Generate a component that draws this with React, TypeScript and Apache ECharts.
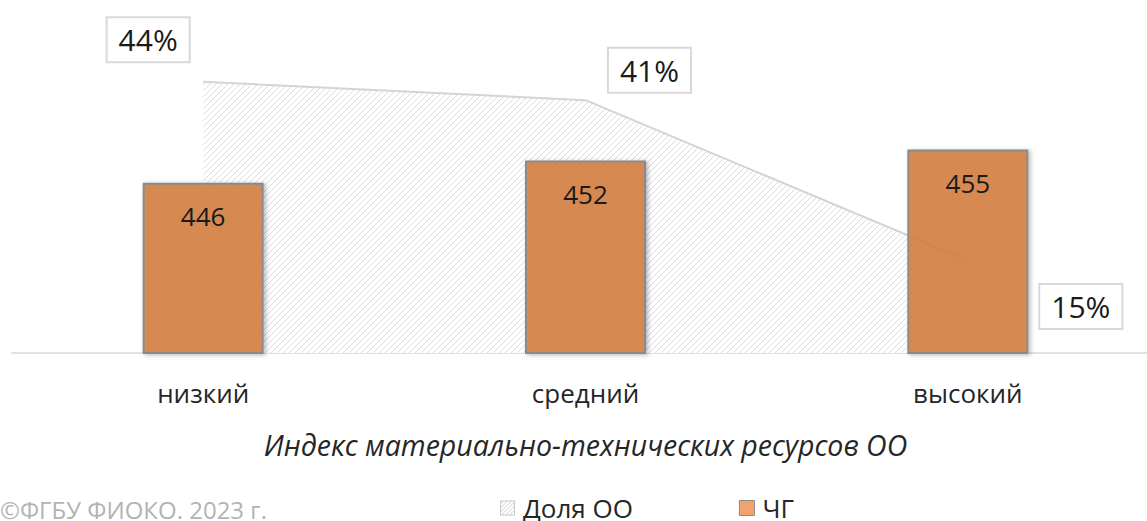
import React, { useEffect, useRef } from "react";
import * as echarts from "echarts";

const categories = ["низкий", "средний", "высокий"];
const shareValues = [44, 41, 15];
const scoreValues = [446, 452, 455];
const shareLabelOffsets: [number, number][] = [
  [-55, -42],
  [64, -30],
  [113, 46],
];
const seriesNames = ["Доля ОО", "ЧГ"];
const axisTitle = "Индекс материально-технических ресурсов ОО";
const copyright = "©ФГБУ ФИОКО. 2023 г.";

const FONT = "'Open Sans', 'Noto Sans', sans-serif";

function makeHatch(): HTMLCanvasElement {
  const c = document.createElement("canvas");
  c.width = 6;
  c.height = 6;
  const ctx = c.getContext("2d")!;
  ctx.fillStyle = "#ffffff";
  ctx.fillRect(0, 0, 6, 6);
  ctx.strokeStyle = "#dcdcdc";
  ctx.lineWidth = 1;
  ctx.beginPath();
  ctx.moveTo(-1, 7);
  ctx.lineTo(7, -1);
  ctx.moveTo(-1, 1);
  ctx.lineTo(1, -1);
  ctx.moveTo(5, 7);
  ctx.lineTo(7, 5);
  ctx.stroke();
  return c;
}

function makeHatchIcon(): string {
  const c = document.createElement("canvas");
  c.width = 15;
  c.height = 15;
  const ctx = c.getContext("2d")!;
  ctx.fillStyle = "#ffffff";
  ctx.fillRect(0, 0, 15, 15);
  ctx.strokeStyle = "#d0d0d0";
  ctx.lineWidth = 1;
  ctx.beginPath();
  for (let k = -15; k < 30; k += 4) {
    ctx.moveTo(k, 15);
    ctx.lineTo(k + 15, 0);
  }
  ctx.stroke();
  ctx.strokeStyle = "#c8c8c8";
  ctx.strokeRect(0.5, 0.5, 14, 14);
  return c.toDataURL();
}

export default function App() {
  const ref = useRef<HTMLDivElement>(null);

  useEffect(() => {
    if (!ref.current) return;
    const chart = echarts.init(ref.current, undefined, { renderer: "svg" });
    const hatch = { image: makeHatch(), repeat: "repeat" } as any;

    chart.setOption({
      animation: false,
      backgroundColor: "#ffffff",
      textStyle: { fontFamily: FONT },
      grid: {
        left: 12,
        width: 1147,
        top: 20,
        height: 333,
        containLabel: false,
        outerBoundsMode: "none",
      },
      legend: {
        left: 495,
        top: 490,
        itemWidth: 15,
        itemHeight: 15,
        itemGap: 106,
        textStyle: { fontSize: 26, color: "#262626", fontFamily: FONT, padding: [0, 0, 0, 3] },
        data: [
          {
            name: seriesNames[0],
            icon: "image://" + makeHatchIcon(),
          },
          {
            name: seriesNames[1],
            icon: "rect",
            itemStyle: { color: "#f0a36d", borderColor: "#8c8c8c", borderWidth: 1 },
          },
        ],
      },
      xAxis: {
        type: "category",
        data: categories,
        boundaryGap: true,
        axisLine: { lineStyle: { color: "#d9d9d9", width: 1.5 } },
        axisTick: { show: false },
        axisLabel: { fontSize: 26, color: "#262626", margin: 27, fontFamily: FONT },
        name: axisTitle,
        nameLocation: "middle",
        nameGap: 77,
        nameTextStyle: { fontSize: 28.5, fontStyle: "italic", color: "#262626", fontFamily: FONT },
      },
      yAxis: [
        { type: "value", min: 0, max: 54, show: false, splitLine: { show: false } },
        { type: "value", min: 400, max: 490, show: false, splitLine: { show: false } },
      ],
      graphic: [
        {
          type: "text",
          left: 0,
          top: 497,
          style: { text: copyright, fontSize: 24, fill: "#b3b3b3", fontFamily: FONT },
        },
      ],
      series: [
        {
          name: seriesNames[0],
          type: "line",
          yAxisIndex: 0,
          data: shareValues,
          symbol: "circle",
          symbolSize: 1,
          itemStyle: { color: "rgba(0,0,0,0)" },
          lineStyle: { color: "#d4d4d4", width: 2 },
          areaStyle: { color: hatch, opacity: 1 },
          label: {
            show: true,
            position: "inside",
            formatter: "{c}%",
            fontSize: 30,
            color: "#1a1a1a",
            backgroundColor: "#ffffff",
            borderColor: "#d9d9d9",
            borderWidth: 2,
            padding: [6, 11, 6, 11],
            lineHeight: 31,
            fontFamily: FONT,
          },
          labelLayout: (p: any) => ({
            dx: shareLabelOffsets[p.dataIndex][0],
            dy: shareLabelOffsets[p.dataIndex][1],
            hideOverlap: false,
          }),
          z: 1,
        },
        {
          name: seriesNames[1],
          type: "bar",
          yAxisIndex: 1,
          data: scoreValues,
          barWidth: 121,
          itemStyle: {
            color: "rgba(213,128,66,0.88)",
            borderColor: "#8a8a8a",
            borderWidth: 2,
            shadowColor: "rgba(0,0,0,0.3)",
            shadowBlur: 4,
            shadowOffsetX: 2,
            shadowOffsetY: 1,
          },
          label: {
            show: true,
            position: "insideTop",
            distance: 20,
            fontSize: 26,
            color: "#1a1a1a",
            fontFamily: FONT,
          },
          z: 2,
        },
      ],
    });

    return () => chart.dispose();
  }, []);

  return (
    <div
      ref={ref}
      style={{ position: "fixed", left: 0, top: 0, width: 1147, height: 521 }}
    />
  );
}
